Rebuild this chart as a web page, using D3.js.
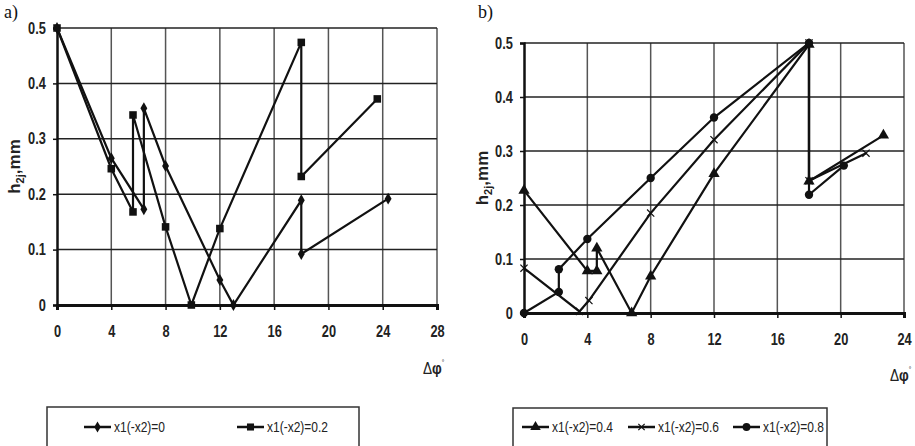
<!DOCTYPE html>
<html>
<head>
<meta charset="utf-8">
<script src="https://cdn.jsdelivr.net/npm/d3@7"></script>
<style>
  body { margin: 0; background: #fff; }
  svg { display: block; }
</style>
</head>
<body>
<div id="chart"></div>
<script>
// ----- data -----
const xTicksA = [0, 4, 8, 12, 16, 20, 24, 28];
const xTicksB = [0, 4, 8, 12, 16, 20, 24];
const yTicks = [0, 0.1, 0.2, 0.3, 0.4, 0.5];
const yTickLabels = ["0", "0.1", "0.2", "0.3", "0.4", "0.5"];

// panel a
const s0x = [0, 4, 6.4, 6.4, 8, 12, 13, 18, 18, 24.4];
const s0y = [0.5, 0.265, 0.173, 0.355, 0.251, 0.045, 0, 0.189, 0.092, 0.192];
const s02x = [0, 4, 5.6, 5.6, 8, 9.9, 12, 18, 18, 23.6];
const s02y = [0.5, 0.246, 0.168, 0.343, 0.141, 0, 0.138, 0.474, 0.232, 0.372];

// panel b
const s04x = [0, 4, 4.6, 4.6, 6.8, 8, 12, 18, 18, 22.7];
const s04y = [0.227, 0.078, 0.078, 0.12, 0, 0.068, 0.258, 0.497, 0.244, 0.329];
const s06x = [0, 3.5, 4.1, 8, 12, 18, 18, 21.6];
const s06y = [0.083, 0.003, 0.023, 0.185, 0.321, 0.5, 0.245, 0.296];
const s08x = [0, 2.2, 2.2, 4, 8, 12, 18, 18, 20.2];
const s08y = [0, 0.039, 0.081, 0.137, 0.25, 0.362, 0.5, 0.219, 0.273];

const legendA = ["x1(-x2)=0", "x1(-x2)=0.2"];
const legendB = ["x1(-x2)=0.4", "x1(-x2)=0.6", "x1(-x2)=0.8"];

const width = 915, height = 446;
const narrow = 0.8; // no condensed font installed, squeeze horizontally

const svg = d3.select("#chart")
    .append("svg")
    .attr("width", width)
    .attr("height", height);

const zip = (xs, ys) => xs.map((x, i) => ({ x: x, y: ys[i] }));

// marker drawing
function marker(g, type, size) {
    if (type === "x") {
        const s = size * 0.45;
        g.append("path")
            .attr("d", `M${-s},${-s}L${s},${s}M${-s},${s}L${s},${-s}`)
            .attr("stroke", "#111")
            .attr("stroke-width", 1.2)
            .attr("fill", "none");
        return;
    }
    const sym = { diamond: d3.symbolDiamond, square: d3.symbolSquare, triangle: d3.symbolTriangle, circle: d3.symbolCircle }[type];
    const area = { diamond: 36, square: 50, triangle: 48, circle: 48 }[type];
    g.append("path")
        .attr("d", d3.symbol().type(sym).size(area * size / 7)())
        .attr("fill", "#111");
}

function styleTicks(axis) {
    axis.selectAll(".tick text")
        .attr("font-family", "Liberation Sans, Arial, sans-serif")
        .attr("font-weight", "bold")
        .attr("font-size", 16)
        .attr("fill", "#222")
        .attr("transform", `scale(${narrow},1)`);
}

function panel(opt) {
    const xScale = d3.scaleLinear().domain([0, opt.xMax]).range([opt.left, opt.right]);
    const yScale = d3.scaleLinear().domain([0, 0.5]).range([opt.bottom, opt.top]);

    // grid
    const grid = svg.append("g");
    grid.selectAll(".vg").data(opt.xTicks.slice(1))
        .enter().append("line")
        .attr("x1", d => xScale(d)).attr("x2", d => xScale(d))
        .attr("y1", opt.top).attr("y2", opt.bottom)
        .attr("stroke", "#555").attr("stroke-width", 1.5);
    grid.selectAll(".hg").data(yTicks.slice(1))
        .enter().append("line")
        .attr("x1", opt.left).attr("x2", opt.right)
        .attr("y1", d => yScale(d)).attr("y2", d => yScale(d))
        .attr("stroke", "#222").attr("stroke-width", 1.5);

    // x axis
    const xAxis = svg.append("g")
        .attr("transform", `translate(0,${opt.bottom})`)
        .call(d3.axisBottom(xScale).tickValues(opt.xTicks).tickSize(5).tickPadding(16).tickFormat(d3.format("d")));
    xAxis.select(".domain").attr("stroke", "#111").attr("stroke-width", 3);
    xAxis.selectAll(".tick line").attr("stroke", "#111").attr("stroke-width", 1.5);
    styleTicks(xAxis);

    // y axis
    const yAxis = svg.append("g")
        .attr("transform", `translate(${opt.left},0)`)
        .call(d3.axisLeft(yScale).tickValues(yTicks).tickSize(4).tickPadding(10)
            .tickFormat((d, i) => yTickLabels[i]));
    yAxis.select(".domain").attr("stroke", "#111").attr("stroke-width", 2.5);
    yAxis.selectAll(".tick line").attr("stroke", "#111").attr("stroke-width", 1.5);
    styleTicks(yAxis);

    // y label
    const yl = svg.append("text")
        .attr("transform", `translate(${opt.ylabX},${(opt.top + opt.bottom) / 2}) rotate(-90)`)
        .attr("text-anchor", "middle")
        .attr("font-family", "Liberation Sans, Arial, sans-serif")
        .attr("font-weight", "bold")
        .attr("font-size", 17)
        .attr("fill", "#222");
    yl.append("tspan").text("h");
    yl.append("tspan").attr("font-size", 11).attr("dy", 4).text("2j");
    yl.append("tspan").attr("dy", -4).text(",mm");

    // x label
    const xl = svg.append("text")
        .attr("transform", `translate(${opt.xlabX},${opt.xlabY}) scale(${narrow},1)`)
        .attr("font-family", "Liberation Sans, Arial, sans-serif")
        .attr("font-size", 17)
        .attr("fill", "#222");
    xl.append("tspan").text("Δ");
    xl.append("tspan").attr("font-weight", "bold").text("φ");
    xl.append("tspan").attr("font-size", 8).attr("dy", -9).text("°");

    // panel letter
    svg.append("text")
        .attr("x", opt.letterX).attr("y", opt.letterY)
        .attr("font-family", "Liberation Serif, Times New Roman, serif")
        .attr("font-size", 18)
        .attr("fill", "#111")
        .text(opt.letter);

    // series
    const line = d3.line().x(d => xScale(d.x)).y(d => yScale(d.y));
    opt.series.forEach(s => {
        const pts = zip(s.xs, s.ys);
        svg.append("path")
            .datum(pts)
            .attr("d", line)
            .attr("fill", "none")
            .attr("stroke", "#111")
            .attr("stroke-width", 2.2);
        svg.selectAll(null)
            .data(pts)
            .enter()
            .append("g")
            .attr("transform", d => `translate(${xScale(d.x)},${yScale(d.y)})`)
            .each(function () { marker(d3.select(this), s.marker, 8); });
    });

    // legend
    svg.append("rect")
        .attr("x", opt.legBox[0]).attr("y", opt.legBox[1])
        .attr("width", opt.legBox[2]).attr("height", 60)
        .attr("fill", "none")
        .attr("stroke", "#333")
        .attr("stroke-width", 1.5);
    opt.series.forEach((s, i) => {
        const lx = opt.legX[i], ly = opt.legY;
        svg.append("line")
            .attr("x1", lx).attr("x2", lx + 27)
            .attr("y1", ly).attr("y2", ly)
            .attr("stroke", "#111").attr("stroke-width", 2.5);
        const g = svg.append("g").attr("transform", `translate(${lx + 13.5},${ly})`);
        marker(g, s.marker, 7);
        svg.append("text")
            .attr("transform", `translate(${lx + 30},${ly + 5}) scale(${narrow},1)`)
            .attr("font-family", "Liberation Sans, Arial, sans-serif")
            .attr("font-size", 15)
            .attr("fill", "#222")
            .text(s.name);
    });
}

panel({
    xMax: 28, xTicks: xTicksA,
    left: 57, right: 437, top: 28, bottom: 305,
    ylabX: 20, xlabX: 423, xlabY: 374,
    letter: "a)", letterX: 4, letterY: 18,
    series: [
        { xs: s0x, ys: s0y, marker: "diamond", name: legendA[0] },
        { xs: s02x, ys: s02y, marker: "square", name: legendA[1] }
    ],
    legBox: [47, 407, 312], legX: [84, 237], legY: 427
});

panel({
    xMax: 24, xTicks: xTicksB,
    left: 524, right: 904, top: 43, bottom: 313,
    ylabX: 488, xlabX: 890, xlabY: 381,
    letter: "b)", letterX: 478, letterY: 18,
    series: [
        { xs: s04x, ys: s04y, marker: "triangle", name: legendB[0] },
        { xs: s06x, ys: s06y, marker: "x", name: legendB[1] },
        { xs: s08x, ys: s08y, marker: "circle", name: legendB[2] }
    ],
    legBox: [513, 408, 314], legX: [522, 628, 733], legY: 427
});
</script>
</body>
</html>
